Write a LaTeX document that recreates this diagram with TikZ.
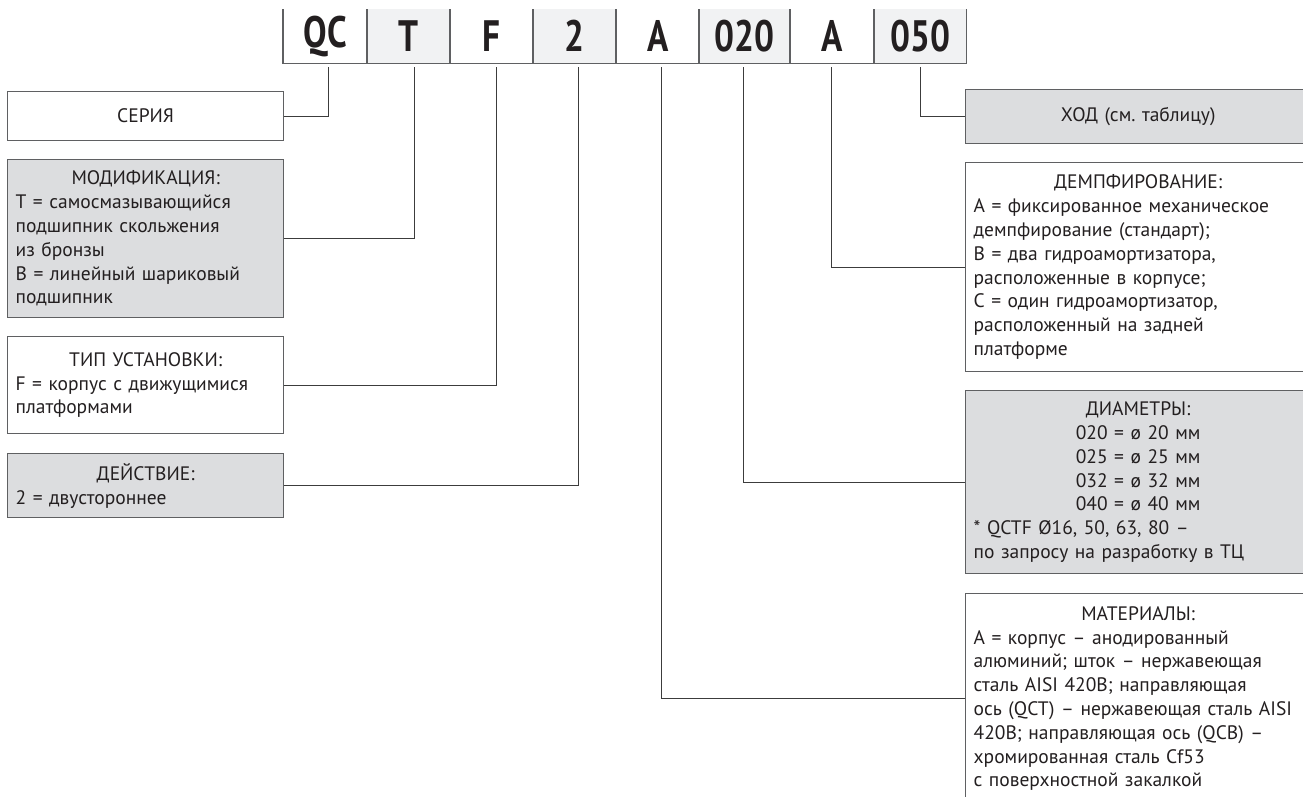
\documentclass[tikz,border=0pt]{standalone}
\usepackage{fontspec}
\setmainfont{PT Sans}[WordSpace=0.85]
\newfontfamily\codefont{PT Sans}[FakeStretch=0.8]
\frenchspacing

\definecolor{boxgray}{HTML}{DCDDDF}
\definecolor{cellgray}{HTML}{F1F2F3}
\definecolor{framegray}{HTML}{5F6062}
\definecolor{linegray}{HTML}{3C3C3C}
\definecolor{textgray}{HTML}{231F20}

\begin{document}
\begin{tikzpicture}[x=1pt, y=-1pt,
	cell/.style={minimum width=#1, minimum height=54pt, inner sep=0pt, anchor=north west,
		font=\codefont\fontsize{44}{44}\selectfont\bfseries, text=textgray},
	info/.style={draw=framegray, line width=1.3pt, anchor=north west, inner xsep=8pt, inner ysep=0pt,
		text width=#1, align=left, font=\fontsize{19.5}{23.8}\selectfont, text=textgray},
	frame/.style={draw=framegray, line width=1.3pt},
	link/.style={draw=linegray, line width=1.2pt}]

	\useasboundingbox (0,0) rectangle (1303,796);
	\clip (0,0) rectangle (1303,796);

	% code cells
	\node[cell=84pt] (cQC) at (283,9) {QC};
	\node[cell=83pt, fill=cellgray] (cT) at (367,9) {T};
	\node[cell=83pt] (cF) at (450,9) {F};
	\node[cell=83pt, fill=cellgray] (cTwo) at (533,9) {2};
	\node[cell=83pt] (cA) at (616,9) {A};
	\node[cell=91pt, fill=cellgray] (cDia) at (699,9) {020};
	\node[cell=84pt] (cDamp) at (790,9) {A};
	\node[cell=92pt, fill=cellgray] (cStroke) at (874,9) {050};

	\draw[frame] (cQC.north west) -- (cQC.south west) -- (cStroke.south east) -- (cStroke.north east);
	\foreach \c in {cT, cF, cTwo, cA, cDia, cDamp, cStroke}
		\draw[frame] (\c.north west) -- (\c.south west);

	% left boxes
	\node[info=260pt, minimum height=49pt] (bSer) at (7,91) {\centerline{СЕРИЯ}};
	\node[info=260pt, minimum height=158pt, fill=boxgray] (bMod) at (7,159) {%
		\centerline{МОДИФИКАЦИЯ:}
		T = самосмазывающийся\\
		подшипник скольжения\\
		из бронзы\\
		B = линейный шариковый\\
		подшипник};
	\node[info=260pt, minimum height=97pt] (bTip) at (7,336) {%
		\centerline{ТИП УСТАНОВКИ:}
		F = корпус с движущимися\\
		платформами};
	\node[info=260pt, minimum height=64pt, fill=boxgray] (bAct) at (7,453) {%
		\centerline{ДЕЙСТВИЕ:}
		2 = двустороннее};

	% right boxes
	\node[info=329pt, minimum height=54pt, fill=boxgray] (bHod) at (965,89) {\centerline{ХОД (см. таблицу)}};
	\node[info=329pt, minimum height=209pt] (bDem) at (965,162) {%
		\centerline{ДЕМПФИРОВАНИЕ:}
		A = фиксированное механическое\\
		демпфирование (стандарт);\\
		B = два гидроамортизатора,\\
		расположенные в корпусе;\\
		C = один гидроамортизатор,\\
		расположенный на задней\\
		платформе};
	\node[info=329pt, minimum height=183pt, fill=boxgray] (bDia) at (965,390) {%
		\centerline{ДИАМЕТРЫ:}
		\centerline{020 = ø 20 мм}
		\centerline{025 = ø 25 мм}
		\centerline{032 = ø 32 мм}
		\centerline{040 = ø 40 мм}
		* QCTF Ø16, 50, 63, 80 –\\
		по запросу на разработку в ТЦ};
	\node[info=329pt, minimum height=210pt] (bMat) at (965,593) {%
		\centerline{МАТЕРИАЛЫ:}
		A = корпус – анодированный\\
		алюминий; шток – нержавеющая\\
		сталь AISI 420B; направляющая\\
		ось (QCT) – нержавеющая сталь AISI\\
		420B; направляющая ось (QCB) –\\
		хромированная сталь Cf53\\
		с поверхностной закалкой};

	% connectors
	\draw[link] ([xshift=3pt, yshift=-4pt]cQC.south) |- (bSer.east);
	\draw[link] ([xshift=5.5pt, yshift=-4pt]cT.south) |- (bMod.east);
	\draw[link] ([xshift=4.5pt, yshift=-4pt]cF.south) |- (bTip.east);
	\draw[link] ([xshift=3.5pt, yshift=-4pt]cTwo.south) |- (bAct.east);
	\draw[link] ([xshift=3.5pt, yshift=-4pt]cA.south) |- (bMat.west);
	\draw[link] ([xshift=-1.5pt, yshift=-4pt]cDia.south) |- (bDia.west);
	\draw[link] ([xshift=-1pt, yshift=-4pt]cDamp.south) |- (bDem.west);
	\draw[link] ([yshift=-4pt]cStroke.south) |- (bHod.west);

\end{tikzpicture}
\end{document}
